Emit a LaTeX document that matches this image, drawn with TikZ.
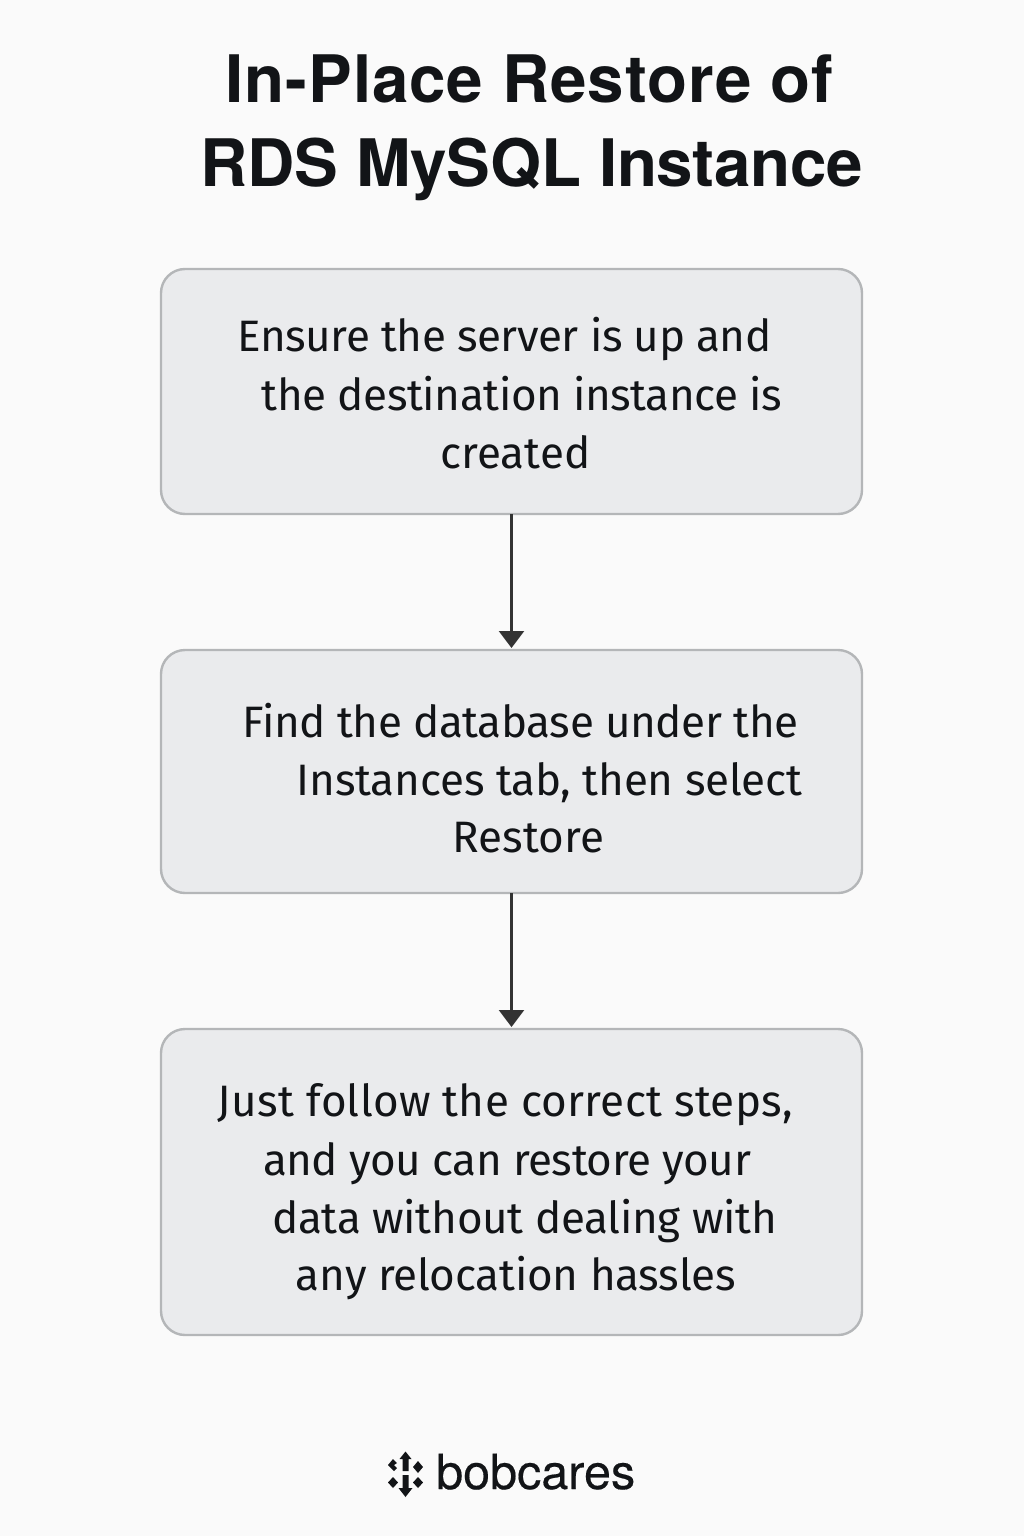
\documentclass[tikz,border=0pt]{standalone}
\usepackage{fontspec}
\setmainfont{Fira Sans}
\newfontfamily\titlefont{TeX Gyre Heros}[BoldFont=* Bold]
\newfontfamily\logofont{TeX Gyre Heros}[FakeBold=0.35]
\definecolor{bgc}{HTML}{FAFAFA}
\definecolor{boxc}{HTML}{EAEBED}
\definecolor{edgec}{HTML}{B4B6B8}
\definecolor{inkc}{HTML}{121417}
\definecolor{arrowc}{HTML}{333333}
\usetikzlibrary{arrows.meta}
\tikzset{
  stepbox/.style={draw=edgec,fill=boxc,line width=2.4pt,rounded corners=24pt,inner sep=0pt,outer sep=0pt,anchor=north west},
  titleline/.style={font=\fontsize{65.5}{66}\titlefont\bfseries\selectfont\addfontfeature{LetterSpace=#1},text=inkc,inner sep=0pt,anchor=base},
  bodyline/.style={font=\fontsize{44}{44}\selectfont\addfontfeature{LetterSpace=#1},text=inkc,inner sep=0pt,anchor=base},
  bodyline/.default=0,
  flow/.style={draw=arrowc,line width=2.4pt,-{Triangle[length=17pt,width=25pt,fill=arrowc]},shorten >=2pt},
  logomark/.style={fill=inkc,draw=none}
}
\begin{document}
\begin{tikzpicture}[x=1pt,y=-1pt]
\fill[bgc] (0,0) rectangle (1024,1536);
\useasboundingbox (0,0) rectangle (1024,1536);
\node[titleline=1.4] (t1) at (529.5,103) {In-Place Restore of};
\node[titleline=-0.4] (t2) at (532,186) {RDS MySQL Instance};
\node[stepbox,minimum width=701pt,minimum height=245pt] (a) at (161,269) {};
\node[stepbox,minimum width=701pt,minimum height=243pt] (b) at (161,650) {};
\node[stepbox,minimum width=701pt,minimum height=306pt] (c) at (161,1029) {};
\draw[flow] (a.south -| 511.5,0) -- (b.north -| 511.5,0);
\draw[flow] (b.south -| 511.5,0) -- (c.north -| 511.5,0);
\node[bodyline=-1] (a1) at (504.5,351) {Ensure the server is up and};
\node[bodyline=-1] (a2) at (522,410) {the destination instance is};
\node[bodyline] (a3) at (515.5,468) {created};
\node[bodyline=-0.9] (b1) at (520.5,737) {Find the database under the};
\node[bodyline=-0.4] (b2) at (549.5,795) {Instances tab, then select};
\node[bodyline] (b3) at (528.5,852) {Restore};
\node[bodyline=0.75] (c1) at (505.5,1116) {Just follow the correct steps,};
\node[bodyline=-1] (c2) at (507,1175) {and you can restore your};
\node[bodyline=-0.6] (c3) at (524.5,1233) {data without dealing with};
\node[bodyline=-0.45] (c4) at (516,1290) {any relocation hassles};
\node[font=\fontsize{48.5}{48}\logofont\selectfont,text=inkc,inner sep=0pt,anchor=base west] (logo) at (436,1489) {bobcares};
\begin{scope}[logomark]
\fill (405.5,1451.5) -- (411.5,1459) -- (408.5,1459) -- (408.5,1471) -- (402.5,1471) -- (402.5,1459) -- (399.5,1459) -- cycle;
\fill (405.5,1497) -- (412.5,1488) -- (408.5,1488) -- (408.5,1475) -- (402.5,1475) -- (402.5,1488) -- (398.5,1488) -- cycle;
\fill (393,1459) -- (397,1463) -- (394,1465) -- (397,1468) -- (394,1471) -- (388,1465) -- cycle;
\fill (418,1461) -- (423,1467) -- (418,1473) -- (413,1467) -- cycle;
\fill (393,1477) -- (398,1482.5) -- (393,1488) -- (388,1482.5) -- cycle;
\fill (418,1477) -- (423,1482.5) -- (418,1488) -- (413,1482.5) -- cycle;
\end{scope}
\end{tikzpicture}
\end{document}
